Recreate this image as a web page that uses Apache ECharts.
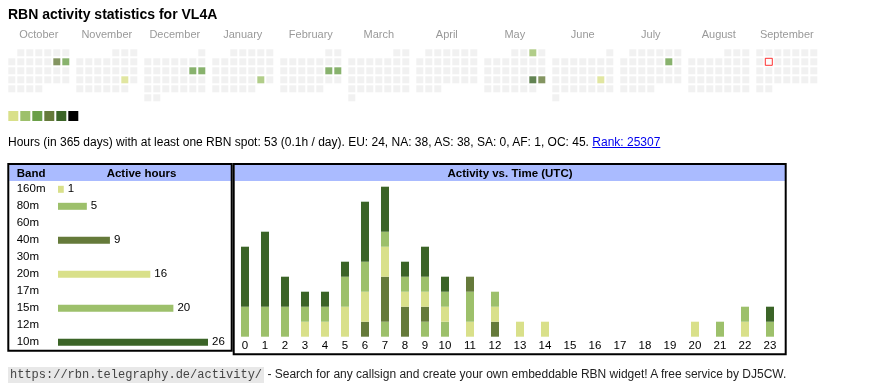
<!DOCTYPE html>
<html><head><meta charset="utf-8">
<script src="https://cdn.jsdelivr.net/npm/echarts@6/dist/echarts.min.js"></script>
<style>
html,body{margin:0;padding:0;background:#fff;}
#wrap{position:relative;width:870px;height:390px;overflow:hidden;font-family:"Liberation Sans",Arial,sans-serif;}
#chart{position:absolute;left:0;top:0;width:870px;height:390px;}
#hours{position:absolute;left:8px;top:135px;font-size:12px;line-height:14px;color:#000;white-space:nowrap;}
#hours a{color:#0000ee;text-decoration:underline;}
#foot{position:absolute;left:8px;top:367px;font-size:12px;line-height:14px;color:#222;white-space:nowrap;}
#foot code{font-family:"Liberation Mono",monospace;font-size:12px;background:#e8e8e8;color:#444;padding:1px 2px;}
</style></head><body>
<div id="wrap"><div id="chart"></div>
<div id="hours">Hours (in 365 days) with at least one RBN spot: 53 (0.1h / day). EU: 24, NA: 38, AS: 38, SA: 0, AF: 1, OC: 45. <a href="#">Rank: 25307</a></div>
<div id="foot"><code>https://rbn.telegraphy.de/activity/</code> - Search for any callsign and create your own embeddable RBN widget! A free service by DJ5CW.</div>
</div>
<script>
// ---------- data ----------
const titleText = 'RBN activity statistics for VL4A';
const months = ['October','November','December','January','February','March','April','May','June','July','August','September'];
const firstYear = 2024, firstMonth = 9; // October 2024 (0-based month)
const activeDays = ['2024-10-12','2024-10-13','2024-11-23','2024-12-14','2024-12-15','2025-01-25','2025-02-15','2025-02-16','2025-05-03','2025-05-24','2025-05-25','2025-06-21','2025-07-12'];
const activeLevels = [4,3,1,3,3,2,3,3,2,5,4,1,3];
const todayDate = '2025-09-09';
const levelColors = ['#d9e08a','#9dc06b','#6a9f48','#657a3a','#3b6427','#000000'];

const bands = ['160m','80m','60m','40m','30m','20m','17m','15m','12m','10m'];
const bandHours = [1,5,0,9,0,16,0,20,0,26];
const bandColors = ['#d9e08a','#9dc06b','#6a9f48','#657a3a','#3b6427','#d9e08a','#9dc06b','#9dc06b','#657a3a','#3b6427'];

const hourLabels = ['0','1','2','3','4','5','6','7','8','9','10','11','12','13','14','15','16','17','18','19','20','21','22','23'];
const h160 = [0,0,0,0,0,0,0,0,0,0,0,1,0,0,0,0,0,0,0,0,0,0,0,0];
const h80  = [0,0,0,0,0,0,0,1,0,1,1,2,0,0,0,0,0,0,0,0,0,0,0,0];
const h60  = [0,0,0,0,0,0,0,0,0,0,0,0,0,0,0,0,0,0,0,0,0,0,0,0];
const h40  = [0,0,0,0,0,0,1,3,2,1,0,1,1,0,0,0,0,0,0,0,0,0,0,0];
const h30  = [0,0,0,0,0,0,0,0,0,0,0,0,0,0,0,0,0,0,0,0,0,0,0,0];
const h20  = [0,0,0,1,1,2,2,2,1,1,1,0,1,1,1,0,0,0,0,0,1,0,1,0];
const h17  = [0,0,0,0,0,0,0,0,0,0,0,0,0,0,0,0,0,0,0,0,0,0,0,0];
const h15  = [2,2,2,1,1,2,2,1,1,1,1,0,1,0,0,0,0,0,0,0,0,1,1,1];
const h12  = [0,0,0,0,0,0,0,0,0,0,0,0,0,0,0,0,0,0,0,0,0,0,0,0];
const h10  = [4,5,2,1,1,1,4,3,1,2,1,0,0,0,0,0,0,0,0,0,0,0,0,1];
const hourSeries = [h160,h80,h60,h40,h30,h20,h17,h15,h12,h10];

// ---------- build ----------
const FONT = '"Liberation Sans", Arial, sans-serif';
const chart = echarts.init(document.getElementById('chart'), null, {renderer:'canvas'});
const grids = [], xAxes = [], yAxes = [], series = [];

const levelByDay = {};
activeDays.forEach((d,i)=>{ levelByDay[d] = activeLevels[i]; });
function pad(n){ return (n<10?'0':'')+n; }

for (let m = 0; m < 12; m++) {
  const y = firstYear + Math.floor((firstMonth + m) / 12);
  const mo = (firstMonth + m) % 12;
  grids.push({left: 7.3 + 68*m, top: 48.3, width: 63, height: 54});
  xAxes.push({gridIndex: m, type:'category', data:[0,1,2,3,4,5,6], position:'top',
    axisLine:{show:false}, axisTick:{show:false}, axisLabel:{show:false}, splitLine:{show:false},
    name: months[m], nameLocation:'middle', nameGap: 8,
    nameTextStyle:{color:'#999', fontSize:11, fontFamily: FONT}});
  yAxes.push({gridIndex: m, type:'category', data:[0,1,2,3,4,5], inverse:true, show:false});
  const firstWd = (new Date(Date.UTC(y, mo, 1)).getUTCDay() + 6) % 7;
  const nDays = new Date(Date.UTC(y, mo + 1, 0)).getUTCDate();
  const cells = [], today = [];
  for (let d = 1; d <= nDays; d++) {
    const key = y + '-' + pad(mo+1) + '-' + pad(d);
    const wd = (firstWd + d - 1) % 7;
    const row = Math.floor((firstWd + d - 1) / 7);
    const lv = levelByDay[key] || 0;
    cells.push({value:[wd,row], itemStyle:{color: lv ? levelColors[lv-1] : '#eeeeee'}});
    if (key === todayDate) today.push([wd,row]);
  }
  series.push({type:'scatter', xAxisIndex:m, yAxisIndex:m, symbol:'rect', symbolSize:7,
    data: cells, silent:true, animation:false});
  if (today.length) series.push({type:'scatter', xAxisIndex:m, yAxisIndex:m, symbol:'rect', symbolSize:7, z:5,
    data: today, silent:true, animation:false,
    itemStyle:{color:'#ffffff', borderColor:'#ff0000', borderWidth:1}});
}

// band table
grids.push({left:58, top:180.8, width:150, height:170});
xAxes.push({gridIndex:12, type:'value', min:0, max:26, show:false});
yAxes.push({gridIndex:12, type:'category', data:bands, inverse:true,
  axisLine:{show:false}, axisTick:{show:false}, splitLine:{show:false},
  axisLabel:{align:'left', margin:41.3, fontSize:11.5, color:'#000', fontFamily:FONT}});
series.push({type:'bar', xAxisIndex:12, yAxisIndex:12, barWidth:7, silent:true, animation:false,
  data: bandHours.map((v,i)=>({value:v, itemStyle:{color:bandColors[i]}})),
  label:{show:true, position:'right', distance:4, fontSize:11.5, color:'#000', fontFamily:FONT,
    formatter: p => p.value > 0 ? String(p.value) : ''}});

// activity vs time (two segments of the hour axis)
const segs = [{from:0,to:10,left:235,width:200},{from:10,to:24,left:432.5,width:350}];
segs.forEach((s,k)=>{
  const gi = 13 + k;
  grids.push({left:s.left, top:186.7, width:s.width, height:150});
  xAxes.push({gridIndex:gi, type:'category', data: hourLabels.slice(s.from, s.to),
    axisLine:{show:false}, axisTick:{show:false}, splitLine:{show:false},
    axisLabel:{margin:3, fontSize:11.5, color:'#000', fontFamily:FONT, interval:0}});
  yAxes.push({gridIndex:gi, type:'value', min:0, max:10, show:false});
  hourSeries.forEach((arr,b)=>{
    series.push({type:'bar', xAxisIndex:gi, yAxisIndex:gi, stack:'hrs'+k, barWidth:8,
      silent:true, animation:false, name: bands[b],
      data: arr.slice(s.from, s.to), itemStyle:{color: bandColors[b]}});
  });
});

const graphics = [
  {type:'text', x:8, y:15, style:{text:titleText, font:'bold 14px "Liberation Sans", Arial, sans-serif', fill:'#000', verticalAlign:'middle'}},
  {type:'rect', shape:{x:9.3,y:165,width:221.7,height:16}, style:{fill:'#aabbff'}, z:1},
  {type:'rect', shape:{x:234.7,y:165,width:550.6,height:16}, style:{fill:'#aabbff'}, z:1},
  {type:'rect', shape:{x:8.3,y:164,width:223.4,height:186.7}, style:{fill:null, stroke:'#000', lineWidth:2}, z:10},
  {type:'rect', shape:{x:233.7,y:164,width:552,height:190.3}, style:{fill:null, stroke:'#000', lineWidth:2}, z:10},
  {type:'text', x:16.7, y:173.5, style:{text:'Band', font:'bold 11.5px "Liberation Sans", Arial, sans-serif', fill:'#000', verticalAlign:'middle'}, z:5},
  {type:'text', x:141.5, y:173.5, style:{text:'Active hours', font:'bold 11.5px "Liberation Sans", Arial, sans-serif', fill:'#000', align:'center', verticalAlign:'middle'}, z:5},
  {type:'text', x:510, y:173.5, style:{text:'Activity vs. Time (UTC)', font:'bold 11.5px "Liberation Sans", Arial, sans-serif', fill:'#000', align:'center', verticalAlign:'middle'}, z:5}
];
levelColors.forEach((c,i)=>{
  graphics.push({type:'rect', shape:{x:8.3+12*i, y:111, width:10, height:10}, style:{fill:c}});
});

chart.setOption({animation:false, grid:grids, xAxis:xAxes, yAxis:yAxes, series:series, graphic:graphics});
</script>
</body></html>
